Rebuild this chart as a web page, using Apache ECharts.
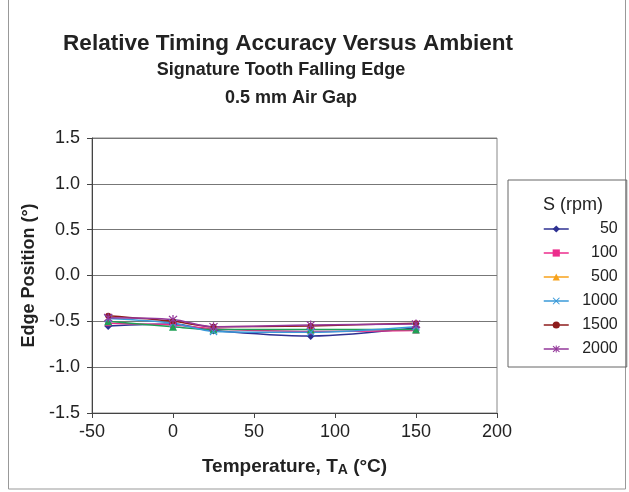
<!DOCTYPE html>
<html>
<head>
<meta charset="utf-8">
<script src="https://cdn.jsdelivr.net/npm/echarts@6/dist/echarts.min.js"></script>
<style>
html,body{margin:0;padding:0;background:#fff;}
#chart{width:629px;height:492px;}
</style>
</head>
<body>
<div id="chart"></div>
<script>
// ---- data ----
var temps = [-40, 0, 25, 85, 150];
var seriesNames = ['50', '100', '500', '1000', '1500', '2000'];
var s50   = [-0.55, -0.53, -0.60, -0.66, -0.57];
var s100  = [-0.52, -0.54, -0.58, -0.61, -0.60];
var s500  = [-0.50, -0.56, -0.59, -0.59, -0.59];
var s1000 = [-0.47, -0.52, -0.61, -0.62, -0.56];
var s1500 = [-0.44, -0.50, -0.56, -0.55, -0.52];
var s2000 = [-0.46, -0.48, -0.56, -0.54, -0.53];
var seriesValues = [s50, s100, s500, s1000, s1500, s2000];
var xTicks = [-50, 0, 50, 100, 150, 200];
var yTicks = [-1.5, -1.0, -0.5, 0.0, 0.5, 1.0, 1.5];

var colors = ['#2e3192', '#ec2d8c', '#1fa055', '#3a9ad9', '#8e1c1c', '#93379a'];
var legendColors = ['#2e3192', '#ec2d8c', '#f7a21b', '#3a9ad9', '#8e1c1c', '#93379a'];
var xPath = 'path://M1,0L5,4L9,0L10,1L6,5L10,9L9,10L5,6L1,10L0,9L4,5L0,1Z';
var starPath = 'path://M1,0L5,4L9,0L10,1L6,5L10,9L9,10L5,6L1,10L0,9L4,5L0,1Z M4.3,-0.5L5.7,-0.5L5.7,10.5L4.3,10.5Z';
var symbols = ['diamond', 'rect', 'triangle', xPath, 'circle', starPath];
var sizes = [8, 6, 8, 8, 6, 9];

var series = seriesNames.map(function (n, i) {
  return {
    name: n,
    type: 'line',
    smooth: 0.3,
    symbol: symbols[i],
    symbolSize: sizes[i],
    showAllSymbol: true,
    data: temps.map(function (t, j) { return [t, seriesValues[i][j]]; }),
    itemStyle: { color: colors[i] },
    lineStyle: { color: colors[i], width: 1.5 }
  };
});

var chart = echarts.init(document.getElementById('chart'));
var font = '"Liberation Sans", Arial, sans-serif';
chart.setOption({
  animation: false,
  textStyle: { fontFamily: font },
  grid: { left: 92, right: 132, top: 138, bottom: 79, show: true, borderColor: '#888', borderWidth: 1 },
  xAxis: {
    type: 'value', min: -50, max: 200, interval: 50,
    axisLine: { onZero: false, lineStyle: { color: '#444', width: 1 } },
    axisTick: { show: true, inside: false, length: 5, lineStyle: { color: '#444' } },
    axisLabel: { color: '#222', fontSize: 18, margin: 10, fontFamily: font,
      formatter: function (v) { return xTicks.indexOf(v) >= 0 ? String(v) : ''; } },
    splitLine: { show: false },
    name: 'Temperature, T{sub|A} (°C)',
    nameLocation: 'middle', nameGap: 43,
    nameTextStyle: { fontSize: 19, fontWeight: 'bold', color: '#222', fontFamily: font,
      rich: { sub: { fontSize: 14, fontWeight: 'bold', color: '#222', verticalAlign: 'bottom', padding: [7, 0, 0, 0], fontFamily: font } } }
  },
  yAxis: {
    type: 'value', min: -1.5, max: 1.5, interval: 0.5,
    axisLine: { show: true, onZero: false, lineStyle: { color: '#444', width: 1 } },
    axisTick: { show: true, inside: false, length: 5, lineStyle: { color: '#444' } },
    axisLabel: { color: '#222', fontSize: 18, margin: 12, fontFamily: font,
      formatter: function (v) { return v.toFixed(1); } },
    splitLine: { show: true, lineStyle: { color: '#777', width: 1 } },
    name: 'Edge Position (°)',
    nameLocation: 'middle', nameGap: 51, nameRotate: 90,
    nameTextStyle: { fontSize: 18, fontWeight: 'bold', color: '#222', fontFamily: font }
  },
  legend: {
    orient: 'vertical',
    left: 508, top: 180,
    padding: [41, 9, 10, 35],
    itemGap: 8,
    itemWidth: 25, itemHeight: 9,
    borderColor: '#666', borderWidth: 1,
    data: seriesNames.map(function (n, i) {
      return { name: n, itemStyle: { color: legendColors[i] }, lineStyle: { color: legendColors[i], width: 1.5 } };
    }),
    formatter: function (n) { return '{a|' + n + '}'; },
    textStyle: { fontFamily: font, fontSize: 16, color: '#222',
      rich: { a: { width: 44, lineHeight: 14, align: 'right', fontSize: 16, color: '#222', fontFamily: font } } }
  },
  graphic: [
    { type: 'rect', shape: { x: 8.5, y: -2, width: 617, height: 491 }, style: { fill: 'none', stroke: '#999', lineWidth: 1 }, silent: true },
    { type: 'text', x: 288, y: 44, style: { text: 'Relative Timing Accuracy Versus Ambient', font: 'bold 22.5px ' + font, fill: '#222', textAlign: 'center', textVerticalAlign: 'middle' } },
    { type: 'text', x: 281, y: 70, style: { text: 'Signature Tooth Falling Edge', font: 'bold 18px ' + font, fill: '#222', textAlign: 'center', textVerticalAlign: 'middle' } },
    { type: 'text', x: 291, y: 98, style: { text: '0.5 mm Air Gap', font: 'bold 18px ' + font, fill: '#222', textAlign: 'center', textVerticalAlign: 'middle' } },
    { type: 'text', x: 573, y: 205, style: { text: 'S (rpm)', font: '18px ' + font, fill: '#222', textAlign: 'center', textVerticalAlign: 'middle' } }
  ],
  series: series
});
</script>
</body>
</html>
